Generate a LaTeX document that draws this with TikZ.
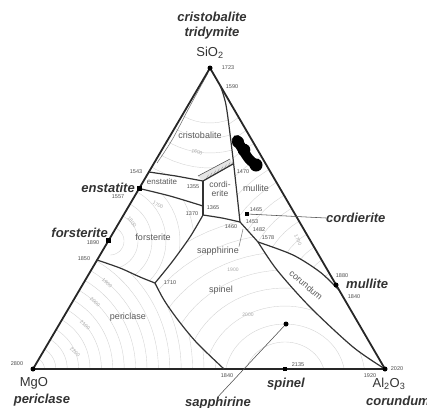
\documentclass[tikz,border=0pt]{standalone}
\usepackage{fontspec}
\setmainfont{Liberation Sans}
\usetikzlibrary{calc}
\begin{document}
\begin{tikzpicture}[x=1pt,y=-1pt,
  edge/.style={line width=1.8pt, draw=black!85, line join=round},
  bound/.style={line width=1.2pt, draw=black!80, line join=round},
  thinb/.style={line width=0.55pt, draw=black!70},
  iso/.style={line width=0.4pt, draw=black!17},
  bigl/.style={font=\fontsize{13}{14}\selectfont\bfseries\itshape, text=black!80, inner sep=0pt},
  oxl/.style={font=\fontsize{13}{14}\selectfont, text=black!80, inner sep=0pt},
  fieldl/.style={font=\fontsize{9}{10}\selectfont, text=black!65, inner sep=0pt},
  tl/.style={font=\fontsize{5.5}{6}\selectfont, text=black!70, inner sep=0pt},
  isol/.style={font=\fontsize{5}{6}\selectfont, text=black!35, inner sep=0pt},
  dotn/.style={circle, fill=black, inner sep=0pt, minimum size=5pt},
  sqn/.style={rectangle, fill=black, inner sep=0pt, minimum size=4.5pt},
]
\useasboundingbox (0,0) rectangle (427,407);
% corners and junctions
\coordinate (Si) at (210,68);
\coordinate (Mg) at (33,369);
\coordinate (Al) at (385,369);
\coordinate (e1543) at (149,172);
\coordinate (en) at (139.4,188.5);
\coordinate (fo) at (108.6,240.5);
\coordinate (e1850) at (97,260);
\coordinate (e1590) at (220,85);
\coordinate (mu) at (336,285);
\coordinate (em) at (338,289);
\coordinate (sp) at (285,369);
\coordinate (e1840) at (224,369);
\coordinate (J1355) at (203,181);
\coordinate (J1365) at (203,206);
\coordinate (J1370) at (203,215);
\coordinate (Jtr) at (233,164);
\coordinate (J1) at (240,222);
\coordinate (J2) at (258,242);
\coordinate (J1710) at (155,283);
\coordinate (co) at (247,214);
\coordinate (sa) at (286,324);

% isotherms
\begin{scope}
\clip (Mg) -- (e1850) -- (120,268) -- (140,277) -- (J1710) -- (164,300) -- (178,320) -- (197,343) -- (e1840) -- cycle;
\foreach \r in {11.4,22.8,...,210} \draw[iso] plot[domain=0:90, samples=30] ({33+\r*cos(\x)},{369-\r*sin(\x)});
\end{scope}
\begin{scope}
\clip (J1710) -- (172,262) -- (190,237) -- (J1370) -- (222,218) -- (J1) -- (J2) -- (277,270) -- (310,307) -- (353,347) -- (Al) -- (e1840) -- (197,343) -- (178,320) -- (164,300) -- cycle;
\foreach \r in {40,60,...,180} \draw[iso] plot[domain=0:180, samples=40] ({285+\r*cos(\x)},{378-0.9*\r*sin(\x)});
\end{scope}
\begin{scope}
\clip (fo) -- (en) -- (170,196) -- (J1365) -- (J1370) -- (190,237) -- (172,262) -- (J1710) -- (140,277) -- (120,268) -- (e1850) -- cycle;
\foreach \r in {14,28,...,110} \draw[iso] plot[domain=-90:90, samples=30] ({110+\r*cos(\x)},{241-\r*sin(\x)});
\end{scope}
\begin{scope}
\clip (Si) -- (e1543) -- (J1355) -- (Jtr) -- (232,150) -- (226,105) -- (e1590) -- cycle;
\foreach \r in {55,70,...,115} \draw[iso] plot[domain=180:360, samples=30] ({210+\r*cos(\x)},{68-\r*sin(\x)});
\end{scope}
\begin{scope}
\clip (e1590) -- (mu) -- (em) -- (320,272) -- (293,255) -- (J2) -- (J1) -- (236,185) -- (232,150) -- (226,105) -- cycle;
\foreach \r in {20,35,...,200} \draw[iso] plot[domain=90:270, samples=30] ({340+\r*cos(\x)},{290-\r*sin(\x)});
\end{scope}

% tridymite strip
\fill[black!10] (J1355) -- (Jtr) -- (230,159) -- (198,176) -- cycle;
\foreach \t in {0.1,0.22,...,0.95} \draw[black!45, line width=0.35pt] ($(J1355)!\t!(Jtr)$) -- ++(2.5,-4.5);
\draw[thinb] (198,176) -- (230,159);

% thin line near SiO2 corner
\draw[thinb, draw=black!55] plot[smooth] coordinates {(208,73) (190,106) (172,140) (157,163)};

% triangle
\draw[edge] (Si) -- (Mg) -- (Al) -- cycle;

% boundary curves
\draw[bound] (e1543) -- (176,176) -- (J1355);
\draw[bound] (J1355) -- (Jtr);
\draw[bound] plot[smooth] coordinates {(en) (170,196) (J1365)};
\draw[bound] (J1355) -- (J1365) -- (J1370);
\draw[bound] plot[smooth] coordinates {(J1370) (222,218) (J1)};
\draw[bound] plot[smooth] coordinates {(e1590) (226,105) (232,150) (236,185) (J1)};
\draw[bound] plot[smooth] coordinates {(J1370) (190,237) (172,262) (J1710)};
\draw[bound] plot[smooth] coordinates {(e1850) (120,268) (140,277) (J1710)};
\draw[bound] plot[smooth] coordinates {(J1710) (164,300) (178,320) (197,343) (e1840)};
\draw[bound] (J1) -- (J2);
\draw[bound] plot[smooth] coordinates {(J2) (293,255) (320,272) (em)};
\draw[bound] plot[smooth] coordinates {(J2) (277,270) (310,307) (353,347) (Al)};

% black blob
\draw[line width=10pt, line cap=round, line join=round, black] plot[smooth] coordinates {(237,140) (243,150) (249,159) (257,166)};
\fill (238,142) circle (6);
\fill (244,150) circle (6.3);
\fill (256,165) circle (6.5);

% composition points
\node[dotn] (nSi) at (Si) {};
\node[dotn] (nMg) at (Mg) {};
\node[dotn] (nAl) at (Al) {};
\node[sqn] (nEn) at (en) {};
\node[sqn] (nFo) at (fo) {};
\node[sqn] (nCo) at (co) {};
\node[dotn] (nMu) at (mu) {};
\node[sqn] (nSp) at (sp) {};
\node[dotn] (nSa) at (sa) {};

% main labels
\node[bigl] (lcris) at (212,17) {cristobalite};
\node[bigl] (ltrid) at (212,33) {tridymite};
\node[oxl] (lSi) at (210,53) {SiO\textsubscript{2}};
\node[bigl, anchor=east] (len) at (135,188) {enstatite};
\node[bigl, anchor=east] (lfo) at (108,233) {forsterite};
\node[bigl, anchor=west] (lcord) at (326,218) {cordierite};
\node[bigl, anchor=west] (lmul) at (346,284) {mullite};
\node[bigl] (lsp) at (286,384) {spinel};
\node[oxl] (lAl) at (389,384) {Al\textsubscript{2}O\textsubscript{3}};
\node[bigl] (lcor) at (398,401) {corundum};
\node[oxl] (lMg) at (34,383) {MgO};
\node[bigl] (lper) at (42,400) {periclase};
\node[bigl] (lsap) at (218,403) {sapphirine};

% leaders
\draw[thinb] (nCo) -- (lcord.west);
\draw[thinb] (nSa) -- (lsap.north);

% field labels
\node[fieldl] (fcris) at (200,135) {cristobalite};
\node[fieldl, font=\fontsize{8}{9}\selectfont] (fen) at (162,182) {enstatite};
\node[fieldl] (ffo) at (153,237) {forsterite};
\node[fieldl] (fper) at (128,317) {periclase};
\node[fieldl] (fsp) at (221,290) {spinel};
\node[fieldl] (fsa) at (218,251) {sapphirine};
\node[fieldl] (fmu) at (256,188) {mullite};
\node[fieldl, align=center, font=\fontsize{8.5}{9.5}\selectfont] (fco) at (220,189) {cordi-\\erite};
\node[fieldl, rotate=-40] (fcor) at (306,285) {corundum};
\coordinate (sleader) at (243,229);
\draw[thinb, draw=black!50] (sleader) -- (fsa.north east);

% temperature labels
\node[tl] at (228,68) {1723};
\node[tl] at (232,87) {1590};
\node[tl] at (136,172) {1543};
\node[tl] at (118,197) {1557};
\node[tl] at (93,243) {1890};
\node[tl] at (84,259) {1850};
\node[tl] at (17,364) {2800};
\node[tl] at (193,187) {1355};
\node[tl] at (213,208) {1365};
\node[tl] at (192,214) {1370};
\node[tl] at (243,172) {1470};
\node[tl] at (256,210) {1465};
\node[tl] at (231,227) {1460};
\node[tl] at (252,222) {1453};
\node[tl] at (259,230) {1482};
\node[tl] at (268,238) {1578};
\node[tl] at (170,283) {1710};
\node[tl] at (227,376) {1840};
\node[tl] at (298,365) {2135};
\node[tl] at (397,369) {2020};
\node[tl] at (370,376) {1920};
\node[tl] at (342,276) {1880};
\node[tl] at (354,297) {1840};

% isotherm labels
\node[isol, rotate=-15] at (197,152) {1600};
\node[isol, rotate=-50] at (132,222) {1800};
\node[isol, rotate=-30] at (158,205) {1700};
\node[isol, rotate=-40] at (107,283) {1900};
\node[isol, rotate=-40] at (95,302) {2000};
\node[isol, rotate=-40] at (85,325) {2100};
\node[isol, rotate=-40] at (75,352) {2200};
\node[isol] at (233,270) {1900};
\node[isol] at (248,315) {2000};
\node[isol, rotate=-65] at (298,240) {1700};
\end{tikzpicture}
\end{document}
